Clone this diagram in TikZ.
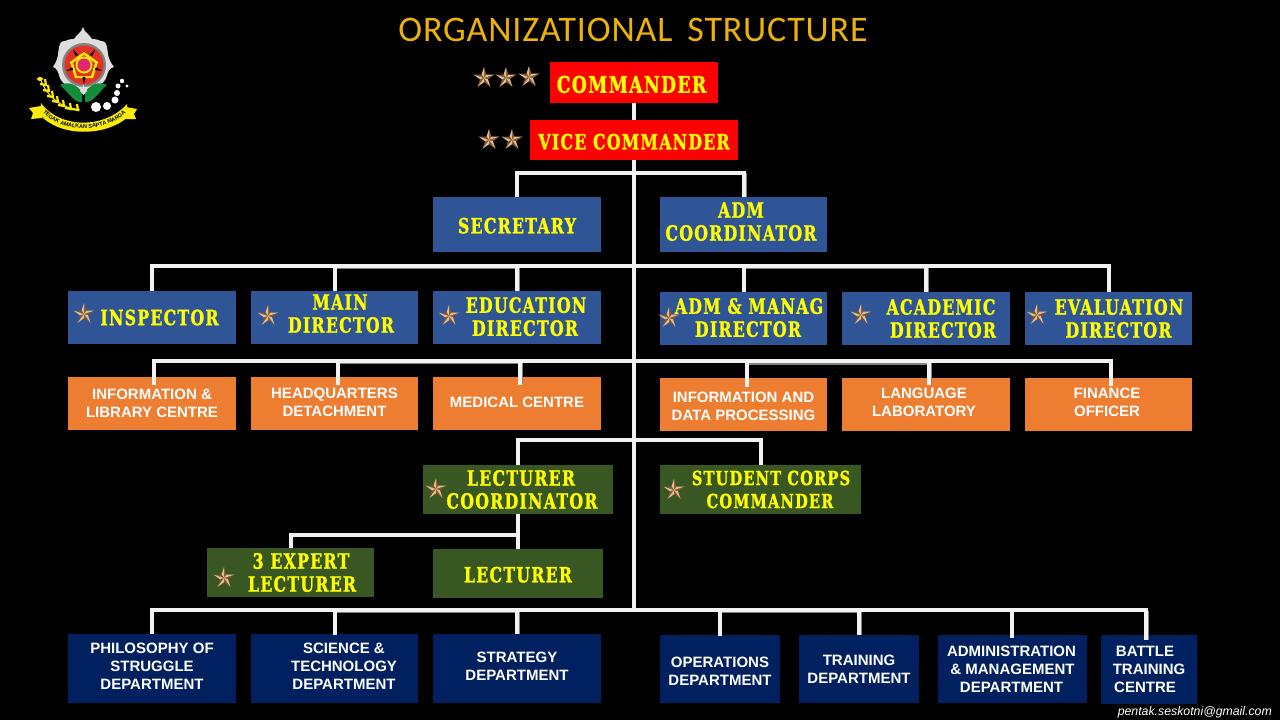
\documentclass[tikz,border=0pt]{standalone}
\usepackage{fontspec}
\setmainfont{Liberation Sans}
\newfontfamily\headfont[LetterSpace=2.3]{Carlito}
\newfontfamily\stampfont[FakeStretch=0.75,FakeBold=1.2,LetterSpace=6]{DejaVu Serif}
\newcommand{\liftby}[1]{\rule[-#1]{0pt}{0pt}}
\newcommand{\dropby}[1]{\rule{0pt}{#1}}
\usetikzlibrary{positioning, calc, shapes.geometric, decorations.text}

\begin{document}
\begin{tikzpicture}[
    x=1pt, y=-1pt,
    box/.style={rectangle, inner sep=0pt, outer sep=0pt, align=center, anchor=north west},
    stamp/.style={box, text=stampyellow, font=\stampfont\bfseries\fontsize{21}{23}\selectfont},
    plain/.style={box, text=white, font=\bfseries\fontsize{15}{18}\selectfont},
    redbox/.style={stamp, fill=cmdred},
    bluebox/.style={stamp, fill=dirblue, minimum width=168pt, minimum height=53pt},
    greenbox/.style={stamp, fill=lecgreen, minimum height=49pt},
    orangebox/.style={plain, fill=unitorange, minimum width=168pt, minimum height=53pt},
    navybox/.style={plain, fill=deptnavy, minimum height=69pt},
    link/.style={draw=linewhite, line width=4pt},
    linkedge/.style={draw=linegray, line width=4pt},
    rankstar/.pic={
        \foreach \a in {-90,-18,54,126,198} {
            \fill[stardark] (0,0) -- (\a:11) -- (\a+36:4.2) -- cycle;
            \fill[starlight] (0,0) -- (\a:11) -- (\a-36:4.2) -- cycle;
        }
    }]

    % Define colors
    \definecolor{stampyellow}{RGB}{255,255,0}
    \definecolor{cmdred}{RGB}{255,0,0}
    \definecolor{dirblue}{RGB}{47,85,151}
    \definecolor{lecgreen}{RGB}{56,87,35}
    \definecolor{unitorange}{RGB}{237,125,49}
    \definecolor{deptnavy}{RGB}{0,32,96}
    \definecolor{linewhite}{RGB}{242,242,242}
    \definecolor{linegray}{RGB}{130,130,130}
    \definecolor{titlegold}{RGB}{236,178,8}
    \definecolor{starlight}{RGB}{226,190,145}
    \definecolor{stardark}{RGB}{130,82,40}
    \definecolor{flamegray}{RGB}{222,222,222}
    \definecolor{discred}{RGB}{225,50,35}
    \definecolor{leafgreen}{RGB}{20,140,60}
    \definecolor{ribbonyellow}{RGB}{250,235,10}

    % Background
    \fill[black] (0,0) rectangle (1280,720);
    \useasboundingbox (0,0) rectangle (1280,720);

    % Emblem
    \fill[flamegray] (83,27) .. controls (84,32) and (89,34) .. (92,39) .. controls (96,39) and (99,40) .. (101,41) .. controls (105,41) and (107,44) .. (107,47) .. controls (108,52) and (107,58) .. (114,67) .. controls (109,68) and (108,72) .. (106,78) .. controls (104,84) and (94,90) .. (83,92) .. controls (72,90) and (62,84) .. (60,78) .. controls (58,72) and (57,68) .. (53,67) .. controls (59,58) and (58,52) .. (59,47) .. controls (59,44) and (61,41) .. (65,41) .. controls (67,40) and (70,39) .. (74,39) .. controls (77,34) and (82,32) .. (83,27) -- cycle;
    \fill[linegray] (84,65) circle (22);
    \fill[discred] (84,65) circle (19.5);
    \fill[ribbonyellow] (84,52) -- (98,62) -- (93,78) -- (75,78) -- (70,62) -- cycle;
    \fill[discred] (84,55) -- (95,63) -- (91,76) -- (77,76) -- (73,63) -- cycle;
    \fill[ribbonyellow] (84,65) circle (8.5);
    \fill[magenta!60!discred] (84,65) circle (6.5);
    \foreach \a in {-54,18,90,162,234} {
        \fill[black] ($(84,65)+(\a:19)$) -- ($(84,65)+(\a+7:12)$) -- ($(84,65)+(\a-7:12)$) -- cycle;
    }
    \fill[leafgreen] (60,85) .. controls (68,81) and (76,84) .. (82,92) -- (82,102) .. controls (74,103) and (70,94) .. (60,85) -- cycle;
    \fill[leafgreen] (107,85) .. controls (99,81) and (91,84) .. (85,92) -- (85,102) .. controls (93,103) and (97,94) .. (107,85) -- cycle;
    \fill[flamegray] (83.5,85) -- (87,91) -- (83.5,95) -- (80,91) -- cycle;
    % wheat
    \draw[ribbonyellow, line width=1pt] (41,80) .. controls (46,95) and (60,108) .. (80,110);
    \foreach \px/\py in {46/85, 49/91, 53/97, 58/102, 64/106, 71/109, 78/110} {
        \draw[ribbonyellow, line width=2.2pt] (\px-6,\py-1) -- (\px,\py) -- (\px-1,\py-6);
    }
    \fill[ribbonyellow] (40,79) ellipse (3 and 2);
    % jasmine
    \foreach \px/\py/\pr in {96/107/5, 107/106/4, 115/100/3.5, 117/93/3, 118/86/2.5, 122/81/2.2, 127/86/1.6} {
        \fill[white] (\px,\py) circle (\pr);
    }
    % ribbon
    \fill[ribbonyellow] (29,108) -- (41,106) -- (42,118) -- (31,119) -- (33,113) -- cycle;
    \fill[ribbonyellow] (137,109) -- (126,107) -- (126,119) -- (136,119) -- (134,114) -- cycle;
    \fill[ribbonyellow] (41,103) .. controls (60,129) and (105,129) .. (127,104) -- (128,117) .. controls (105,137) and (60,137) .. (40,115) -- cycle;
    \path[decorate, decoration={text along path, text align=center, text={|\fontsize{5.5}{5.5}\bfseries\selectfont\color{black}|TEGAK AMALKAN SAPTA MARGA}}] (42,111) .. controls (60,134) and (105,134) .. (127,112);

    % Title and credit
    \node[font=\headfont\fontsize{36}{36}\selectfont, text=titlegold] (title) at (633,30) {ORGANIZATIONAL\hspace{6pt} STRUCTURE};
    \node[font=\itshape\fontsize{12.3}{12.3}\selectfont, text=white, anchor=east, inner sep=0pt] (credit) at (1272,712) {pentak.seskotni@gmail.com};

    % Nodes
    \node[redbox, minimum width=168pt, minimum height=41pt, font=\stampfont\bfseries\fontsize{23}{23}\selectfont] (commander) at (550,62) {\dropby{21pt}COMMANDER\hspace*{5pt}};
    \node[redbox, minimum width=208pt, minimum height=40pt] (vice) at (530,120) {\dropby{19pt}VICE COMMANDER};
    \node[bluebox, minimum height=55pt] (secretary) at (433,197) {\dropby{18pt}SECRETARY};
    \node[bluebox, minimum width=167pt, minimum height=55pt, right=59pt of secretary] (admcoord) {ADM\hspace*{5pt}\\COORDINATOR\hspace*{5pt}\liftby{6pt}};

    \node[bluebox] (inspector) at (68,291) {\hspace*{15pt}INSPECTOR};
    \node[bluebox, minimum width=167pt, right=15pt of inspector] (maindir) {\hspace*{11pt}MAIN\\\hspace*{13pt}DIRECTOR\liftby{8pt}};
    \node[bluebox, right=15pt of maindir] (edudir) {\hspace*{18pt}EDUCATION\\\hspace*{16pt}DIRECTOR\liftby{2pt}};
    \node[bluebox, minimum width=167pt] (admdir) at (660,292) {\hspace*{11pt}ADM \& MANAG\\\hspace*{9pt}DIRECTOR\liftby{2pt}};
    \node[bluebox, right=15pt of admdir] (acadir) {\hspace*{30pt}ACADEMIC\\\hspace*{34pt}DIRECTOR};
    \node[bluebox, minimum width=167pt, right=15pt of acadir] (evaldir) {\hspace*{21pt}EVALUATION\\\hspace*{20pt}DIRECTOR};

    \node[orangebox] (infolib) at (68,377) {INFORMATION \&\\LIBRARY CENTRE};
    \node[orangebox, minimum width=167pt, right=15pt of infolib] (hqdet) {HEADQUARTERS\\DETACHMENT\liftby{2pt}};
    \node[orangebox, right=15pt of hqdet] (medical) {MEDICAL CENTRE\liftby{2pt}};
    \node[orangebox, minimum width=167pt] (infodata) at (660,378) {\dropby{15pt}INFORMATION AND\\DATA PROCESSING};
    \node[orangebox, right=15pt of infodata] (langlab) {LANGUAGE\hspace*{4pt}\\LABORATORY\hspace*{4pt}\liftby{5pt}};
    \node[orangebox, minimum width=167pt, right=15pt of langlab] (finance) {FINANCE\hspace*{3pt}\\OFFICER\hspace*{3pt}\liftby{5pt}};

    \node[greenbox, minimum width=190pt] (leccoord) at (423,465) {\hspace*{6pt}LECTURER\\\hspace*{8pt}COORDINATOR};
    \node[greenbox, minimum width=201pt, font=\stampfont\bfseries\fontsize{19.5}{23}\selectfont] (corpscmd) at (660,465) {\hspace*{21pt}STUDENT CORPS\\\hspace*{19pt}COMMANDER};
    \node[greenbox, minimum width=167pt] (expert) at (207,548) {\hspace*{21pt}3 EXPERT\\\hspace*{23pt}LECTURER};
    \node[greenbox, minimum width=170pt] (lecturer) at (433,549) {\dropby{18pt}LECTURER};

    \node[navybox, minimum width=168pt] (philosophy) at (68,634) {PHILOSOPHY OF\\STRUGGLE\\DEPARTMENT\liftby{5pt}};
    \node[navybox, minimum width=167pt, right=15pt of philosophy] (science) {\hspace*{19pt}SCIENCE \&\\\hspace*{19pt}TECHNOLOGY\\\hspace*{19pt}DEPARTMENT\liftby{5pt}};
    \node[navybox, minimum width=168pt, right=15pt of science] (strategy) {STRATEGY\\DEPARTMENT\liftby{5pt}};
    \node[navybox, minimum width=120pt, minimum height=68pt] (operations) at (660,635) {\dropby{14pt}OPERATIONS\\DEPARTMENT};
    \node[navybox, minimum width=120pt, minimum height=68pt, right=19pt of operations] (training) {TRAINING\\DEPARTMENT};
    \node[navybox, minimum width=149pt, minimum height=68pt, right=19pt of training] (adminmgmt) {ADMINISTRATION\hspace*{2pt}\\\& MANAGEMENT\hspace*{2pt}\\DEPARTMENT\hspace*{2pt}};
    \node[navybox, minimum width=96pt, minimum height=69pt, right=14pt of adminmgmt] (battle) {BATTLE\hspace*{8pt}\\TRAINING\hspace*{8pt}\\CENTRE\hspace*{8pt}};

    % Stars
    \foreach \sx/\sy in {484/78, 506/78, 529/77, 489/140, 512/140, 84/314, 268/316, 449/316, 669/318, 861/315, 1037/315, 436/489, 674/490, 224/578} {
        \pic at (\sx,\sy) {rankstar};
    }

    % Junctions on the trunk
    \coordinate (trunkend) at (634,612);
    \coordinate (lvlone) at (634,173);
    \coordinate (lvltwo) at (634,266);
    \coordinate (lvlthree) at (634,361);
    \coordinate (lvlfour) at (634,440);
    \coordinate (lvlfive) at (634,610);
    \coordinate (lecjoin) at (518,535);

    % Gray edges under some of the branches
    \foreach \from/\to/\up in {maindir/edudir/25, admdir/acadir/26, science/strategy/24, operations/training/25} {
        \draw[linkedge] ([shift={(0,1-\up)}]\from.north) -- ([shift={(1,1-\up)}]\to.north) -- ([xshift=1pt]\to.north);
    }
    \foreach \from/\to in {hqdet/medical, infodata/langlab} {
        \draw[linkedge] ([shift={(3,-15)}]\from.north) -- ([shift={(4,-15)}]\to.north) -- ([shift={(4,7)}]\to.north);
    }
    \draw[linkedge] ([shift={(1,-24)}]admcoord.north) -- ([xshift=1pt]admcoord.north);
    \draw[linkedge] ([shift={(-2,-24)}]battle.north) -- ([shift={(-2,5)}]battle.north);

    % Connectors
    \draw[link] (commander.south) -- (vice.north);
    \draw[link] (vice.south) -- (trunkend);
    \draw[link] (secretary.north) |- (lvlone) -| (admcoord.north);
    \draw[link] (inspector.north) |- (lvltwo) -| (evaldir.north);
    \draw[link] (maindir.north) -- ++(0,-25);
    \draw[link] (edudir.north) -- ++(0,-25);
    \draw[link] (admdir.north) -- ++(0,-26);
    \draw[link] (acadir.north) -- ++(0,-26);

    \draw[link] ([shift={(2,8)}]infolib.north) |- (lvlthree) -| ([shift={(2,8)}]finance.north);
    \draw[link] ([shift={(3,8)}]hqdet.north) -- ++(0,-24);
    \draw[link] ([shift={(3,8)}]medical.north) -- ++(0,-24);
    \draw[link] ([shift={(3,9)}]infodata.north) -- ++(0,-26);
    \draw[link] ([shift={(3,7)}]langlab.north) -- ++(0,-24);

    \draw[link] (leccoord.north) |- (lvlfour) -| (corpscmd.north);
    \draw[link] (leccoord.south) -- (lecturer.north);
    \draw[link] (expert.north) |- (lecjoin);

    \draw[link] (philosophy.north) |- (lvlfive) -| ([shift={(-3,5)}]battle.north);
    \draw[link] ([yshift=-1pt]science.north) -- ++(0,-25);
    \draw[link] (strategy.north) -- ++(0,-24);
    \draw[link] ([yshift=-1pt]operations.north) -- ++(0,-26);
    \draw[link] (training.north) -- ++(0,-25);
    \draw[link] ([shift={(-1,3)}]adminmgmt.north) -- ++(0,-28);

\end{tikzpicture}
\end{document}
